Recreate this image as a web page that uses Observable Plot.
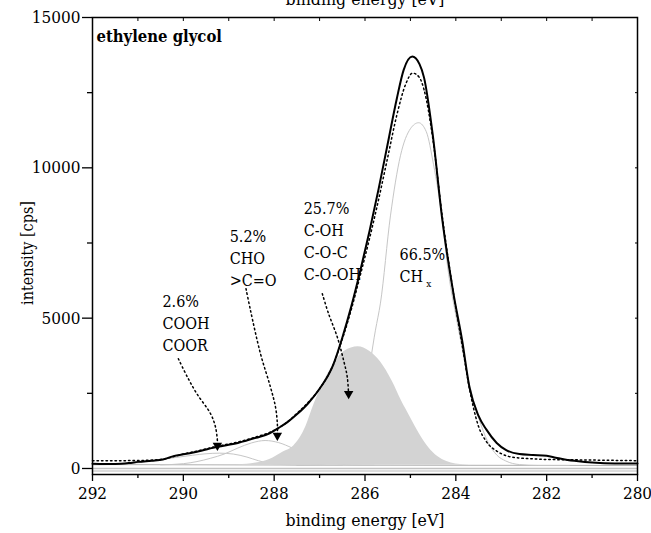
<!DOCTYPE html>
<html><head><meta charset="utf-8">
<script src="https://cdn.jsdelivr.net/npm/d3@7"></script>
<script src="https://cdn.jsdelivr.net/npm/@observablehq/plot@0.6"></script>
<style>
body{margin:0;background:#fff;overflow:hidden}
#chart{width:651px;height:533px;overflow:hidden;position:relative}
#chart svg text{font-family:"DejaVu Serif Condensed","DejaVu Serif",serif !important;font-stretch:condensed}
</style>
</head><body><div id="chart"></div>
<script>
// ---- measured spectrum (solid) ----
const measuredEV = [292, 291.5, 291.2, 291, 290.7, 290.45, 290.2, 290, 289.7, 289.25, 288.8, 288.4, 288.1, 287.9, 287.7, 287.5, 287.25, 287, 286.7, 286.5, 286.3, 286.1, 285.9, 285.7, 285.5, 285.3, 285.15, 284.96, 284.8, 284.7, 284.5, 284.3, 284.05, 283.86, 283.7, 283.5, 283.33, 283.1, 282.9, 282.6, 282.3, 282.0, 281.8, 281.6, 281.3, 281, 280.5, 280];
const measuredI  = [160, 150, 180, 220, 260, 300, 420, 470, 560, 720, 850, 1020, 1170, 1350, 1550, 1800, 2170, 2650, 3450, 4350, 5400, 6600, 7900, 9300, 10800, 12300, 13250, 13700, 13450, 13000, 11000, 8300, 5800, 4250, 2700, 1750, 1300, 850, 620, 480, 450, 420, 360, 300, 240, 200, 170, 170];
// ---- fit envelope (dotted) ----
const fitEV = [292, 291.5, 291, 290.5, 290.2, 290, 289.7, 289.25, 288.8, 288.4, 288.1, 287.9, 287.7, 287.5, 287.25, 287, 286.7, 286.5, 286.3, 286.1, 285.9, 285.7, 285.5, 285.3, 285.1, 284.95, 284.8, 284.7, 284.5, 284.3, 284.05, 283.86, 283.68, 283.5, 283.33, 283.1, 282.9, 282.6, 282.3, 282, 281.5, 281, 280.5, 280];
const fitI  = [260, 260, 265, 300, 400, 480, 580, 740, 880, 1050, 1200, 1350, 1560, 1830, 2200, 2650, 3450, 4300, 5300, 6450, 7650, 8950, 10350, 11750, 12800, 13150, 13000, 12600, 10900, 8400, 5800, 4100, 2500, 1400, 900, 580, 430, 350, 320, 300, 290, 280, 270, 260];
// ---- background ----
const bgEV = [292, 286, 280];
const bgI  = [130, 110, 100];
const baseLevel = 105;
// ---- components ----
const chxEV = [287.5, 287.0, 286.7, 286.4, 286.2, 286.0, 285.77, 285.66, 285.44, 285.22, 285.0, 284.82, 284.65, 284.49, 284.3, 284.18, 284.0, 283.9, 283.7, 283.5, 283.3, 283.1, 282.9, 282.6, 282.2, 281.5];
const chxI  = [100, 130, 250, 700, 1400, 2500, 4600, 5500, 8400, 10400, 11300, 11500, 11200, 10100, 8300, 6700, 5100, 4300, 2800, 1700, 900, 450, 250, 130, 100, 100];
const cohEV = [288.8, 288.4, 288.1, 287.8, 287.57, 287.3, 287.13, 286.9, 286.7, 286.45, 286.15, 285.9, 285.66, 285.4, 285.2, 285.0, 284.8, 284.6, 284.4, 284.2, 284.0, 283.7, 283.3];
const cohI  = [120, 180, 300, 550, 750, 1400, 2100, 2900, 3450, 3900, 4050, 3900, 3550, 2900, 2260, 1700, 1150, 700, 400, 230, 150, 110, 105];
const choEV = [290.5, 290.0, 289.7, 289.4, 289.1, 288.8, 288.5, 288.2, 287.9, 287.6, 287.3, 287.0, 286.7, 286.3, 285.8];
const choI  = [120, 160, 230, 340, 480, 680, 850, 930, 860, 680, 470, 300, 180, 120, 110];
const coohEV = [292, 291.5, 291.0, 290.6, 290.2, 289.8, 289.5, 289.2, 288.9, 288.6, 288.35, 288.1, 287.8, 287.4, 286.5];
const coohI  = [120, 140, 190, 270, 360, 440, 490, 510, 480, 380, 260, 170, 130, 115, 110];
// ---- annotations ----
const labelText = ["2.6%\nCOOH\nCOOR", "5.2%\nCHO\n>C=O", "25.7%\nC-OH\nC-O-C\nC-O-OH", "66.5%\nCH"];
const labelEV = [290.46, 288.98, 287.35, 285.24];
const labelI  = [5890, 8050, 8970, 7440];
const subText = ["x"];
const subEV = [284.65];
const subI = [6150];
const arrowId = ["a","a","a","a","a","a","b","b","b","b","b","b","b","c","c","c","c","c","c"];
const arrowEV = [290.11, 289.91, 289.70, 289.40, 289.29, 289.25, 288.62, 288.52, 288.30, 288.08, 287.97, 287.93, 287.93, 286.94, 286.80, 286.61, 286.47, 286.39, 286.36];
const arrowI  = [3650, 3040, 2480, 1820, 1370, 930, 5980, 5250, 3810, 2700, 2040, 1490, 1000, 5810, 5140, 4370, 3590, 3040, 2400];
const tipEV = [289.25, 287.93, 286.36];
const tipI  = [600, 930, 2320];
const xMajor = [292, 290, 288, 286, 284, 282, 280];
const xMinor = [291, 289, 287, 285, 283, 281];
const yMajor = [0, 5000, 10000, 15000];
const yMinor = [2500, 7500, 12500];
const titleText = "ethylene glycol";
const xTitle = "binding energy [eV]";
const yTitle = "intensity [cps]";

const pts = (xs, ys) => xs.map((x, i) => ({x, y: ys[i]}));
const measured = pts(measuredEV, measuredI);
const fit = pts(fitEV, fitI);
const bg = pts(bgEV, bgI);
const chx = pts(chxEV, chxI);
const coh = pts(cohEV, cohI);
const cho = pts(choEV, choI);
const cooh = pts(coohEV, coohI);
const labels = labelText.map((t, i) => ({t, x: labelEV[i], y: labelI[i]}));
const subs = subText.map((t, i) => ({t, x: subEV[i], y: subI[i]}));
const arrows = arrowEV.map((x, i) => ({x, y: arrowI[i], id: arrowId[i]}));
const tips = pts(tipEV, tipI);

const blank = () => "";
const chart = Plot.plot({
  width: 651, height: 533,
  marginLeft: 92, marginRight: 14, marginTop: 17, marginBottom: 59,
  style: {fontFamily: "DejaVu Serif", fontSize: "17px", background: "white", overflow: "visible", color: "black"},
  x: {domain: [292, 280]},
  y: {domain: [-200, 15000]},
  marks: [
    Plot.ruleY([0], {stroke: "#c2c2c2", strokeWidth: 1.5}),
    Plot.ruleY([-80], {stroke: "#d0d0d0", strokeWidth: 1.5}),
    Plot.line(bg, {x: "x", y: "y", stroke: "#b0b0b0", strokeWidth: 1}),
    Plot.line(chx, {x: "x", y: "y", stroke: "#c6c6c6", strokeWidth: 1, curve: "monotone-x"}),
    Plot.line(cooh, {x: "x", y: "y", stroke: "#c6c6c6", strokeWidth: 1, curve: "monotone-x"}),
    Plot.line(cho, {x: "x", y: "y", stroke: "#c6c6c6", strokeWidth: 1, curve: "monotone-x"}),
    Plot.areaY(coh, {x: "x", y1: baseLevel, y2: "y", fill: "#d3d3d3", curve: "monotone-x"}),
    Plot.line(fit, {x: "x", y: "y", stroke: "black", strokeWidth: 1.5, strokeDasharray: "1.5,3", curve: "monotone-x"}),
    Plot.line(measured, {x: "x", y: "y", stroke: "black", strokeWidth: 2, curve: "monotone-x"}),
    Plot.line(arrows, {x: "x", y: "y", z: "id", stroke: "black", strokeWidth: 1.5, strokeDasharray: "1.5,3", curve: "catmull-rom"}),
    Plot.dot(tips, {x: "x", y: "y", symbol: "triangle", rotate: 180, r: 3.5, fill: "black", stroke: "none", dy: -5}),
    Plot.text(labels, {x: "x", y: "y", text: "t", textAnchor: "start", lineAnchor: "top", lineHeight: 1.37, fontSize: 16, fill: "black"}),
    Plot.text(subs, {x: "x", y: "y", text: "t", textAnchor: "start", fontSize: 10, fill: "black"}),
    Plot.text([titleText], {frameAnchor: "top-left", dx: 4, dy: 19, lineAnchor: "middle", fontSize: 16.5, fontWeight: "bold", fill: "black"}),
    Plot.text([xTitle], {frameAnchor: "bottom", dy: 46, textAnchor: "middle", lineAnchor: "middle", fontSize: 17.5, fill: "black"}),
    Plot.text([xTitle], {frameAnchor: "top", dy: -13, textAnchor: "middle", lineAnchor: "bottom", fontSize: 17.5, fill: "black"}),
    Plot.text([yTitle], {frameAnchor: "left", dx: -65, dy: 7, rotate: -90, textAnchor: "middle", lineAnchor: "middle", fontSize: 16, fill: "black"}),
    Plot.frame({stroke: "black", strokeWidth: 1.5}),
    Plot.axisX({ticks: xMajor, tickSize: 7, tickPadding: 5, tickFormat: d => String(d), label: null, strokeWidth: 1.3, fontSize: 17}),
    Plot.axisX({ticks: xMinor, tickSize: 4, tickFormat: blank, label: null, strokeWidth: 1.3}),
    Plot.axisX({anchor: "top", ticks: d3.range(281, 292, 1), tickSize: -3, tickFormat: blank, label: null, strokeWidth: 1}),
    Plot.axisY({ticks: yMajor, tickSize: 10, tickPadding: 2, tickFormat: d => String(d), label: null, strokeWidth: 1.3, fontSize: 17}),
    Plot.axisY({ticks: yMinor, tickSize: 5, tickFormat: blank, label: null, strokeWidth: 1.3}),
    Plot.axisY({anchor: "right", ticks: d3.range(2500, 15000, 2500), tickSize: -3, tickFormat: blank, label: null, strokeWidth: 1})
  ]
});
document.getElementById("chart").appendChild(chart);
</script>
</body></html>
